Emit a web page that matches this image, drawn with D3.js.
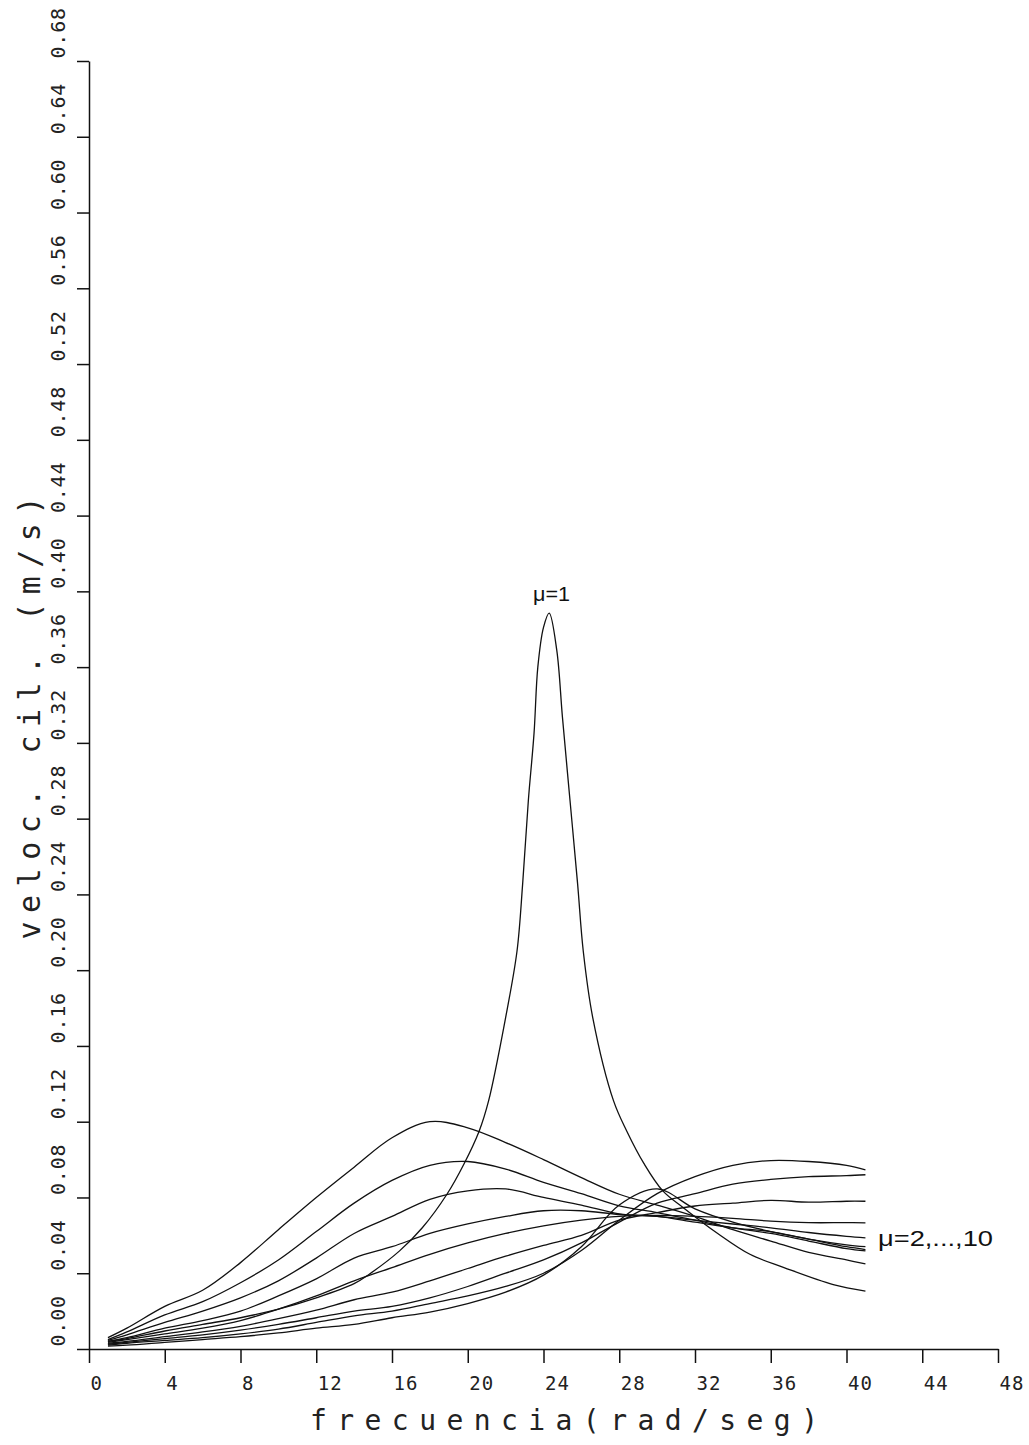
<!DOCTYPE html>
<html>
<head>
<meta charset="utf-8">
<script src="https://cdn.jsdelivr.net/npm/d3@7"></script>
<style>
  body { margin: 0; background: #fff; }
  svg { display: block; }
</style>
</head>
<body>
<div id="chart"></div>
<script>
// ticks
var xTicks = [0, 4, 8, 12, 16, 20, 24, 28, 32, 36, 40, 44, 48];
var yTicks = [0.00, 0.04, 0.08, 0.12, 0.16, 0.20, 0.24, 0.28, 0.32, 0.36, 0.40, 0.44, 0.48, 0.52, 0.56, 0.60, 0.64, 0.68];

// frequencies shared by mu = 2..10
var freqs = [1, 2, 4, 6, 8, 10, 12, 14, 16, 18, 20, 22, 24, 26, 28, 30, 32, 34, 36, 38, 40, 41];

var mu2  = [0.006, 0.011, 0.0225, 0.031, 0.0456, 0.063, 0.080, 0.096, 0.1115, 0.120, 0.1168, 0.109, 0.100, 0.0905, 0.0817, 0.076, 0.070, 0.063, 0.057, 0.051, 0.047, 0.0449];
var mu3  = [0.005, 0.009, 0.018, 0.025, 0.035, 0.047, 0.062, 0.077, 0.089, 0.097, 0.099, 0.095, 0.088, 0.082, 0.0756, 0.072, 0.068, 0.064, 0.061, 0.057, 0.053, 0.0518];
var mu4  = [0.0045, 0.0075, 0.014, 0.020, 0.027, 0.036, 0.048, 0.061, 0.070, 0.079, 0.0835, 0.0845, 0.080, 0.076, 0.0713, 0.070, 0.067, 0.064, 0.062, 0.058, 0.055, 0.054];
var mu5  = [0.004, 0.006, 0.011, 0.015, 0.020, 0.028, 0.037, 0.048, 0.054, 0.061, 0.066, 0.070, 0.073, 0.073, 0.071, 0.070, 0.068, 0.066, 0.064, 0.0615, 0.0595, 0.0587];
var mu6  = [0.0035, 0.005, 0.008, 0.011, 0.015, 0.021, 0.028, 0.036, 0.043, 0.050, 0.056, 0.061, 0.065, 0.068, 0.070, 0.0705, 0.070, 0.069, 0.0675, 0.0667, 0.0667, 0.0666];
var mu7  = [0.003, 0.004, 0.0065, 0.009, 0.012, 0.016, 0.0205, 0.026, 0.030, 0.036, 0.0425, 0.049, 0.0547, 0.060, 0.068, 0.072, 0.0755, 0.077, 0.0785, 0.0775, 0.078, 0.078];
var mu8  = [0.0025, 0.0035, 0.0055, 0.0075, 0.010, 0.013, 0.0165, 0.020, 0.0225, 0.027, 0.033, 0.040, 0.047, 0.056, 0.067, 0.077, 0.082, 0.087, 0.0895, 0.091, 0.0915, 0.092];
var mu9  = [0.002, 0.003, 0.0045, 0.006, 0.008, 0.0105, 0.014, 0.0175, 0.020, 0.024, 0.028, 0.033, 0.040, 0.052, 0.068, 0.082, 0.091, 0.097, 0.0995, 0.099, 0.097, 0.0946];
var mu10 = [0.0015, 0.002, 0.0035, 0.005, 0.0065, 0.0085, 0.011, 0.013, 0.0165, 0.0195, 0.024, 0.030, 0.039, 0.054, 0.076, 0.0845, 0.074, 0.067, 0.062, 0.058, 0.054, 0.0525];

// mu = 1 has its own, denser frequency list around the resonance
var mu1Freq = [1, 2, 4, 6, 8, 10, 12, 14, 14.8, 16.4, 17.6, 18.9, 19.8, 20.6, 21.1, 22.0, 22.6, 22.9, 23.2, 23.5, 23.7, 24.0, 24.3, 24.7, 25.0, 25.4, 25.8, 26.1, 26.6, 27.7, 28.4, 29.3, 30.3, 31.4, 33.2, 34.9, 36.7, 39.3, 41];
var mu1    = [0.004, 0.0055, 0.0095, 0.013, 0.0165, 0.021, 0.027, 0.0345, 0.0395, 0.0518, 0.064, 0.0817, 0.0977, 0.115, 0.131, 0.175, 0.210, 0.2457, 0.2896, 0.325, 0.360, 0.381, 0.3885, 0.369, 0.3336, 0.2896, 0.2457, 0.210, 0.175, 0.131, 0.115, 0.098, 0.0835, 0.0745, 0.061, 0.050, 0.043, 0.034, 0.0306];

var width = 1029, height = 1445;

var series = [
    {name: "mu1", f: mu1Freq, v: mu1},
    {name: "mu2", f: freqs, v: mu2},
    {name: "mu3", f: freqs, v: mu3},
    {name: "mu4", f: freqs, v: mu4},
    {name: "mu5", f: freqs, v: mu5},
    {name: "mu6", f: freqs, v: mu6},
    {name: "mu7", f: freqs, v: mu7},
    {name: "mu8", f: freqs, v: mu8},
    {name: "mu9", f: freqs, v: mu9},
    {name: "mu10", f: freqs, v: mu10}
];

var x = d3.scaleLinear().domain([0, 48]).range([89, 998]);
var y = d3.scaleLinear().domain([0, 0.68]).range([1349, 61]);

var svg = d3.select("#chart")
    .append("svg")
    .attr("width", width)
    .attr("height", height)
    .style("background", "#fff");

var tickFont = "'DejaVu Sans Mono', monospace";

// x axis
var gx = svg.append("g")
    .attr("transform", "translate(0," + y(0) + ")")
    .call(d3.axisBottom(x).tickValues(xTicks).tickSize(14).tickSizeOuter(0).tickFormat(d3.format("d")))
    .attr("font-family", tickFont)
    .attr("font-size", 19);

gx.selectAll("text")
    .attr("text-anchor", "start")
    .attr("x", 1)
    .attr("y", 41)
    .attr("dy", 0)
    .attr("letter-spacing", 1)
    .attr("fill", "#222");

// y axis, labels rotated and starting at their tick
var gy = svg.append("g")
    .attr("transform", "translate(" + x(0) + ",0)")
    .call(d3.axisLeft(y).tickValues(yTicks).tickSize(12).tickSizeOuter(0).tickFormat(d3.format(".2f")))
    .attr("font-family", tickFont)
    .attr("font-size", 20);

gy.selectAll("text")
    .attr("transform", "rotate(-90)")
    .attr("text-anchor", "start")
    .attr("x", 3)
    .attr("y", -24)
    .attr("dy", 0)
    .attr("letter-spacing", 0.8)
    .attr("fill", "#222");

svg.selectAll(".domain, .tick line")
    .attr("stroke", "#111")
    .attr("stroke-width", 1.5);

// curves
var line = d3.line()
    .x(function(d) { return x(d[0]); })
    .y(function(d) { return y(d[1]); })
    .curve(d3.curveCatmullRom.alpha(0.5));

svg.append("g")
    .selectAll("path")
    .data(series)
    .enter()
    .append("path")
    .attr("class", function(d) { return "curve " + d.name; })
    .attr("d", function(d) {
        return line(d.f.map(function(f, i) { return [f, d.v[i]]; }));
    })
    .attr("fill", "none")
    .attr("stroke", "#111")
    .attr("stroke-width", 1.3);

// axis titles
svg.append("text")
    .attr("x", 564)
    .attr("y", 1430)
    .attr("text-anchor", "middle")
    .attr("font-family", tickFont)
    .attr("font-size", 28)
    .attr("textLength", 508)
    .attr("lengthAdjust", "spacing")
    .attr("fill", "#222")
    .text("frecuencia(rad/seg)");

svg.append("text")
    .attr("transform", "translate(40,718) rotate(-90)")
    .attr("text-anchor", "middle")
    .attr("font-family", tickFont)
    .attr("font-size", 30)
    .attr("textLength", 443)
    .attr("lengthAdjust", "spacing")
    .attr("fill", "#222")
    .text("veloc. cil. (m/s)");

// curve labels
svg.append("text")
    .attr("x", 533)
    .attr("y", 601)
    .attr("font-family", "'Liberation Sans', Arial, sans-serif")
    .attr("font-size", 20)
    .attr("textLength", 37)
    .attr("lengthAdjust", "spacingAndGlyphs")
    .attr("fill", "#111")
    .text("μ=1");

svg.append("text")
    .attr("x", 878)
    .attr("y", 1246)
    .attr("font-family", "'Liberation Sans', Arial, sans-serif")
    .attr("font-size", 22)
    .attr("textLength", 115)
    .attr("lengthAdjust", "spacingAndGlyphs")
    .attr("fill", "#111")
    .text("μ=2,...,10");
</script>
</body>
</html>
